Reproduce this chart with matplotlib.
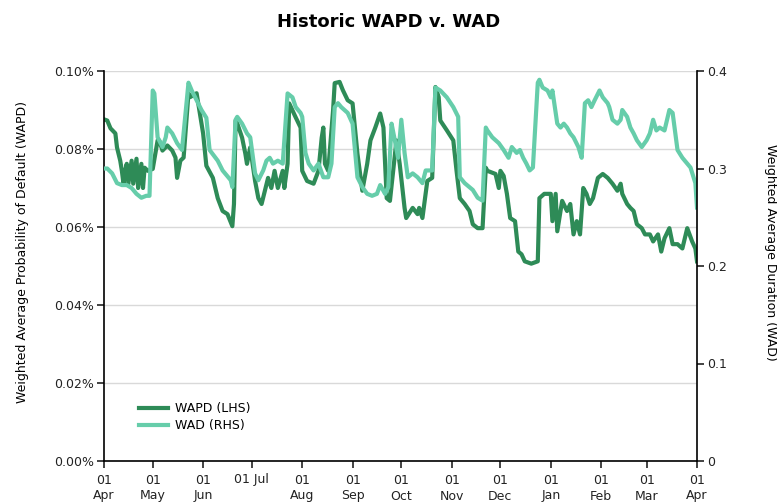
import numpy as np
import matplotlib
matplotlib.use("Agg")
import matplotlib.pyplot as plt
import matplotlib.dates as mdates
from matplotlib.ticker import FuncFormatter, FixedLocator

plt.rcParams['font.family'] = ['DejaVu Sans']

# day offsets from 01 Apr and values
start = np.datetime64('2013-04-01')

wapd_days = [0, 2, 4, 7, 8, 10, 11, 12, 13, 14, 15, 17, 18, 20, 21, 23, 24, 25, 27, 30, 33,
             34, 36, 39, 42, 44, 45, 47, 49, 52, 53, 57, 59, 61, 63, 67, 70, 73, 76, 79, 80,
             81, 82, 85, 87, 88, 90, 93, 95, 97, 99, 101, 103, 105, 107, 110, 111, 113, 114,
             118, 121, 122, 125, 129, 132, 134, 135, 136, 138, 141, 142, 145, 147, 150, 153,
             154, 156, 158, 159, 162, 164, 167, 170, 172, 174, 176, 178, 180, 182, 185, 186,
             190, 193, 194, 196, 199, 202, 204, 206, 207, 211, 215, 217, 219, 222, 225, 227,
             230, 233, 235, 236, 241, 243, 244, 246, 248, 250, 253, 255, 257, 259, 263, 267,
             268, 271, 275, 276, 278, 279, 282, 285, 287, 289, 291, 293, 295, 297, 299, 301,
             304, 307, 310, 313, 316, 318, 319, 322, 324, 326, 328, 331, 333, 336, 338, 341,
             343, 345, 348, 350, 353, 356, 359, 362, 364, 365]
wapd = [0.0876, 0.0873, 0.0853, 0.0840, 0.0804, 0.0770, 0.0744, 0.0711, 0.0744, 0.0762,
        0.0711, 0.0770, 0.0711, 0.0775, 0.0700, 0.0762, 0.0700, 0.0752, 0.0744, 0.0749,
        0.0822, 0.0822, 0.0796, 0.0809, 0.0796, 0.0778, 0.0726, 0.0770, 0.0778, 0.0943,
        0.0933, 0.0943, 0.0891, 0.0840, 0.0757, 0.0726, 0.0674, 0.0641, 0.0633, 0.0602,
        0.0659, 0.0873, 0.0866, 0.0829, 0.0788, 0.0762, 0.0804, 0.0718, 0.0674, 0.0659,
        0.0693, 0.0726, 0.0700, 0.0744, 0.0700, 0.0744, 0.0700, 0.0762, 0.0917, 0.0881,
        0.0855, 0.0744, 0.0718, 0.0711, 0.0744, 0.0829, 0.0855, 0.0762, 0.0744, 0.0899,
        0.0969, 0.0972, 0.0951, 0.0925, 0.0917, 0.0873, 0.0788, 0.0726, 0.0693, 0.0762,
        0.0822, 0.0855, 0.0891, 0.0855, 0.0674, 0.0667, 0.0744, 0.0822, 0.0762, 0.0649,
        0.0623, 0.0649, 0.0633, 0.0649, 0.0623, 0.0718, 0.0726, 0.0959, 0.0933, 0.0873,
        0.0848, 0.0822, 0.0744, 0.0674, 0.0659, 0.0641, 0.0607, 0.0597, 0.0597, 0.0752,
        0.0744, 0.0736, 0.0700, 0.0744, 0.0731, 0.0685, 0.0623, 0.0615, 0.0537, 0.0530,
        0.0512, 0.0506, 0.0512, 0.0674, 0.0685, 0.0685, 0.0615, 0.0685, 0.0589, 0.0667,
        0.0641, 0.0659, 0.0581, 0.0615, 0.0581, 0.0700, 0.0685, 0.0659, 0.0674, 0.0726,
        0.0736, 0.0726, 0.0711, 0.0693, 0.0711, 0.0685, 0.0659, 0.0649, 0.0641, 0.0607,
        0.0597, 0.0581, 0.0581, 0.0563, 0.0581, 0.0537, 0.0571, 0.0597, 0.0556, 0.0556,
        0.0545, 0.0597, 0.0563, 0.0545, 0.0512]

wad_days = [0, 2, 5, 8, 11, 14, 17, 20, 23, 26, 28, 30, 31, 33, 36, 38, 39, 42, 45, 48, 51,
            52, 54, 57, 60, 63, 65, 70, 73, 78, 79, 81, 82, 85, 88, 90, 93, 95, 98, 100, 102,
            104, 107, 110, 113, 116, 118, 121, 122, 124, 126, 129, 132, 135, 138, 140, 142,
            144, 146, 150, 153, 156, 159, 162, 165, 168, 170, 173, 175, 177, 179, 181, 183,
            185, 187, 190, 193, 196, 198, 202, 204, 207, 211, 215, 218, 219, 222, 227, 230,
            233, 235, 236, 239, 243, 246, 249, 251, 254, 256, 258, 260, 262, 264, 267, 268,
            270, 273, 275, 276, 279, 281, 283, 285, 287, 289, 292, 294, 296, 298, 300, 302,
            305, 307, 310, 311, 313, 316, 318, 319, 322, 324, 326, 328, 331, 334, 336, 338,
            340, 342, 345, 348, 350, 353, 356, 361, 364, 365]
wad = [0.300, 0.300, 0.295, 0.285, 0.283, 0.283, 0.280, 0.274, 0.270, 0.272, 0.272, 0.380,
       0.377, 0.332, 0.322, 0.332, 0.342, 0.336, 0.326, 0.319, 0.370, 0.388, 0.380, 0.370,
       0.360, 0.352, 0.319, 0.308, 0.298, 0.288, 0.281, 0.350, 0.353, 0.346, 0.336, 0.332,
       0.295, 0.288, 0.298, 0.308, 0.311, 0.305, 0.308, 0.305, 0.377, 0.373, 0.363, 0.357,
       0.353, 0.316, 0.305, 0.298, 0.305, 0.291, 0.291, 0.305, 0.363, 0.367, 0.363, 0.357,
       0.346, 0.291, 0.281, 0.274, 0.272, 0.274, 0.283, 0.274, 0.281, 0.346, 0.329, 0.311,
       0.350, 0.316, 0.291, 0.295, 0.291, 0.285, 0.298, 0.298, 0.383, 0.380, 0.373, 0.363,
       0.353, 0.291, 0.285, 0.278, 0.270, 0.267, 0.342, 0.339, 0.332, 0.326, 0.319, 0.311,
       0.322, 0.316, 0.319, 0.311, 0.305, 0.298, 0.301, 0.388, 0.391, 0.383, 0.380, 0.373,
       0.380, 0.346, 0.342, 0.346, 0.342, 0.336, 0.332, 0.322, 0.311, 0.367, 0.370, 0.363,
       0.370, 0.380, 0.373, 0.367, 0.363, 0.350, 0.346, 0.350, 0.360, 0.353, 0.342, 0.336,
       0.329, 0.322, 0.329, 0.336, 0.350, 0.339, 0.342, 0.339, 0.360, 0.357, 0.319, 0.311,
       0.301, 0.285, 0.260]

month_labels = ['01\nApr', '01\nMay', '01\nJun', '01 Jul', '01\nAug', '01\nSep', '01\nOct',
                '01\nNov', '01\nDec', '01\nJan', '01\nFeb', '01\nMar', '01\nApr']

wapd_dates = start + np.array(wapd_days).astype('timedelta64[D]')
wad_dates = start + np.array(wad_days).astype('timedelta64[D]')
month_ticks = np.arange(np.datetime64('2013-04'), np.datetime64('2014-05'),
                        np.timedelta64(1, 'M')).astype('datetime64[D]')

dark = '#2e8b57'
light = '#66cdaa'

fig = plt.figure(figsize=(7.77, 5.03), dpi=100)
ax = fig.add_axes([104 / 777, 1 - 461 / 503, 593 / 777, 390 / 503])
ax2 = ax.twinx()

l1, = ax.plot(wapd_dates, wapd, color=dark, lw=3, label='WAPD (LHS)', solid_joinstyle='round')
l2, = ax2.plot(wad_dates, wad, color=light, lw=3, label='WAD (RHS)', solid_joinstyle='round')

ax.set_xlim(month_ticks[0], month_ticks[-1])
ax.set_ylim(0, 0.10)
ax2.set_ylim(0, 0.4)

ax.xaxis.set_major_locator(FixedLocator(mdates.date2num(month_ticks)))
ax.set_xticklabels(month_labels, linespacing=1.3)
ax.set_yticks(np.arange(0, 0.101, 0.02))
ax.yaxis.set_major_formatter(FuncFormatter(lambda v, p: f'{v:.2f}%'))
ax2.set_yticks([0, 0.1, 0.2, 0.3, 0.4])
ax2.set_yticklabels(['0', '0.1', '0.2', '0.3', '0.4'])

for a in (ax, ax2):
    a.tick_params(labelsize=9, length=5, width=1.2, color='#222222', labelcolor='#222222',
                  pad=2)
    a.spines['top'].set_visible(False)
    for s in ('left', 'right', 'bottom'):
        a.spines[s].set_linewidth(1.2)
ax.tick_params(axis='x', pad=4)
ax.spines['right'].set_visible(False)
ax2.spines['left'].set_visible(False)
ax2.spines['bottom'].set_visible(False)

ax.grid(axis='y', color='#d9d9d9', lw=1)
ax.set_axisbelow(True)

ax.set_ylabel('Weighted Average Probability of Default (WAPD)', fontsize=9)
ax.yaxis.set_label_coords(-75 / 593, 0.535)
ax2.set_ylabel('Weighted Average Duration (WAD)', fontsize=9, rotation=270, va='center')
ax2.yaxis.set_label_coords(1 + 74 / 593, 0.535)
fig.suptitle('Historic WAPD v. WAD', fontsize=13, fontweight='bold', y=1 - 22 / 503, va='center')

ax2.legend(handles=[l1, l2], loc='upper left', bbox_to_anchor=(0.04, 0.18), frameon=False,
           fontsize=9, handlelength=2.3, labelspacing=0.35, handletextpad=0.6)

fig.savefig('out.png', dpi=100)
